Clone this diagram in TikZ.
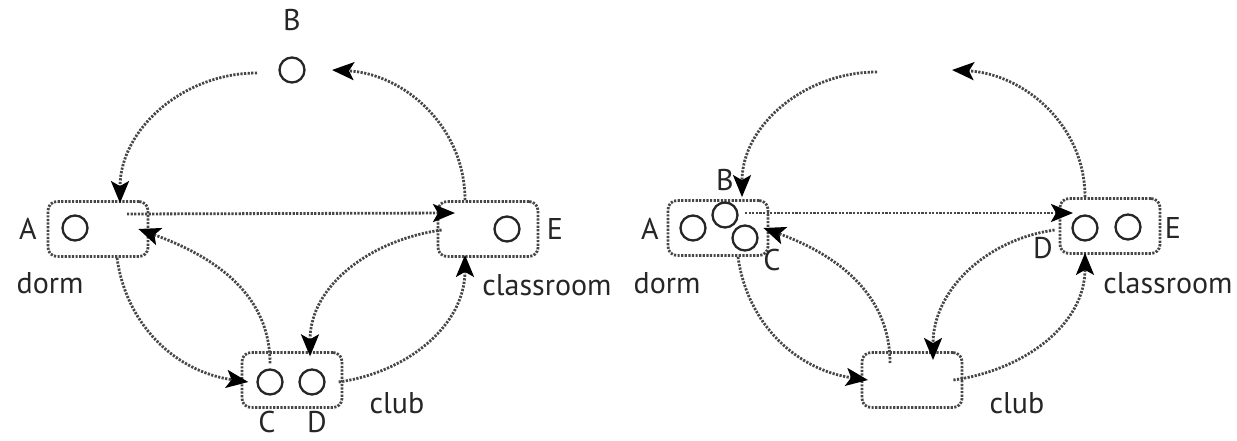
\documentclass[tikz,border=0pt]{standalone}
\usepackage{fontspec}
\setmainfont{PT Sans}
\usetikzlibrary{arrows.meta}
\begin{document}
\begin{tikzpicture}[x=1pt,y=1pt,
  dotline/.style={draw=black!72, line width=2.8pt, dash pattern=on 2.2pt off 1.4pt},
  place/.style={dotline, rounded corners=9pt, minimum width=100pt, minimum height=55pt, inner sep=0pt},
  person/.style={circle, draw=black!85, line width=2.3pt, minimum size=25pt, inner sep=0pt},
  lab/.style={font=\fontsize{30}{32}\selectfont, text=black!85, inner sep=0pt},
  flow/.style={dotline, -{Stealth[length=22pt,width=18pt,inset=5pt,color=black]}}
]
\useasboundingbox (0,0) rectangle (1237,440);

% ---------- left panel ----------
\node[place] (dormL) at (98,211) {};
\node[place] (classL) at (488,211) {};
\node[place] (clubL) at (292,60) {};
\node[person] (cBL) at (292,370) {};
\node[person] (cAL) at (75,212) {};
\node[person] (cEL) at (507,211) {};
\node[person] (cCL) at (270,58) {};
\node[person] (cDL) at (312,58) {};
\node[lab] (tBL) at (292,420) {B};
\node[lab] (tAL) at (28,211) {A};
\node[lab] (tEL) at (555,211) {E};
\node[lab] (tCL) at (267,18) {C};
\node[lab] (tDL) at (317,18) {D};
\node[lab] (dormtL) at (50,157) {dorm};
\node[lab] (classtL) at (547,155) {classroom};
\node[lab] (clubtL) at (397,37) {club};
\coordinate (bL1) at (257,367);

\draw[flow] (bL1) to[out=180,in=90] ([xshift=22pt,yshift=-3pt]dormL.north);
\draw[flow] ([xshift=-23pt]classL.north) to[out=90,in=-3] ([xshift=40pt]cBL.center);
\draw[flow] ([xshift=29pt,yshift=15pt]dormL.center) -- ([xshift=-33pt,yshift=16pt]classL.center);
\draw[flow] ([yshift=5pt]cCL.north) to[out=90,in=-20] ([xshift=-11pt]dormL.east);
\draw[flow] ([xshift=19pt]dormL.south) to[out=-82,in=172] ([xshift=-8pt]cCL.west);
\draw[flow] ([xshift=5pt,yshift=-1pt]classL.west) to[out=188,in=90] ([xshift=-2pt,yshift=12pt]cDL.north);
\draw[flow] ([xshift=13pt]cDL.east) to[out=8,in=-90] ([xshift=-23pt,yshift=3pt]classL.south);

% ---------- right panel ----------
\node[place] (dormR) at (718,212) {};
\node[place] (classR) at (1110,214) {};
\node[place] (clubR) at (912,60) {};
\node[person] (cAR) at (693,212) {};
\node[person] (cBR) at (725,225) {};
\node[person] (cCR) at (745,202) {};
\node[person] (cDR) at (1085,212) {};
\node[person] (cER) at (1128,213) {};
\node[lab] (tAR) at (650,211) {A};
\node[lab] (tBR) at (725,260) {B};
\node[lab] (tCR) at (772,180) {C};
\node[lab] (tDR) at (1043,192) {D};
\node[lab] (tER) at (1173,212) {E};
\node[lab] (dormtR) at (667,157) {dorm};
\node[lab] (classtR) at (1168,157) {classroom};
\node[lab] (clubtR) at (1017,37) {club};
\coordinate (bR1) at (877,368);
\coordinate (bR2) at (952,370);

\draw[flow] (bR1) to[out=180,in=90] ([xshift=24pt,yshift=2pt]dormR.north);
\draw[flow] ([xshift=-25pt]classR.north) to[out=90,in=-3] (bR2);
\draw[flow] ([xshift=27pt,yshift=15pt]dormR.center) -- ([xshift=-37pt,yshift=13pt]classR.center);
\draw[flow] ([xshift=-22pt,yshift=17pt]clubR.center) to[out=90,in=-20] ([xshift=-6pt]dormR.east);
\draw[flow] ([xshift=20pt]dormR.south) to[out=-82,in=172] ([xshift=-44pt]clubR.center);
\draw[flow] ([xshift=-4pt,yshift=-4pt]classR.west) to[out=188,in=90] ([xshift=21pt,yshift=20pt]clubR.center);
\draw[flow] ([xshift=-10pt]clubR.east) to[out=8,in=-90] ([xshift=-25pt,yshift=2pt]classR.south);
\end{tikzpicture}
\end{document}
